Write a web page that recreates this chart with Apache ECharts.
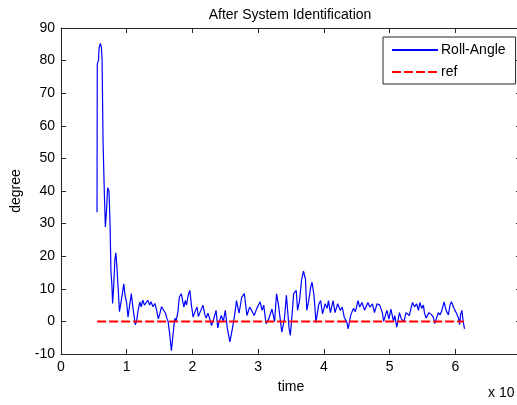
<!DOCTYPE html>
<html>
<head>
<meta charset="UTF-8">
<title>After System Identification</title>
<script src="https://cdn.jsdelivr.net/npm/echarts@6/dist/echarts.min.js"></script>
<style>
html, body { margin: 0; padding: 0; background: #fff; }
#chart { width: 517px; height: 405px; }
</style>
</head>
<body>
<div id="chart"></div>
<script>
// time in units of x10^4, roll angle in degree
const timeData = [
0.548, 0.552, 0.57, 0.58, 0.60, 0.615, 0.625, 0.64, 0.66, 0.675, 0.69, 0.71, 0.73, 0.745, 0.76, 0.775, 0.785, 0.80, 0.82, 0.835,
0.85, 0.87, 0.89, 0.91, 0.93, 0.955, 0.975, 1.0, 1.02, 1.045, 1.07, 1.09, 1.11, 1.13, 1.15, 1.17, 1.20, 1.22, 1.245, 1.27,
1.29, 1.32, 1.35, 1.37, 1.40, 1.43, 1.46, 1.48, 1.50, 1.53, 1.56, 1.59, 1.61, 1.63, 1.655, 1.68, 1.70, 1.72, 1.735, 1.75,
1.78, 1.80, 1.83, 1.845, 1.87, 1.89, 1.91, 1.935, 1.96, 1.985, 2.01, 2.04, 2.07, 2.09, 2.12, 2.16, 2.19, 2.21, 2.235, 2.26,
2.29, 2.32, 2.36, 2.385, 2.41, 2.44, 2.47, 2.50, 2.53, 2.57, 2.61, 2.65, 2.67, 2.71, 2.75, 2.79, 2.83, 2.87, 2.90, 2.94,
2.98, 3.03, 3.06, 3.085, 3.12, 3.16, 3.21, 3.25, 3.28, 3.31, 3.36, 3.40, 3.43, 3.47, 3.49, 3.52, 3.54, 3.58, 3.60, 3.63,
3.66, 3.69, 3.72, 3.74, 3.77, 3.80, 3.82, 3.85, 3.88, 3.92, 3.95, 3.98, 4.02, 4.05, 4.07, 4.10, 4.14, 4.17, 4.21, 4.25,
4.28, 4.31, 4.35, 4.37, 4.41, 4.45, 4.48, 4.52, 4.545, 4.58, 4.62, 4.67, 4.70, 4.74, 4.77, 4.81, 4.85, 4.89, 4.91, 4.96,
4.99, 5.02, 5.06, 5.08, 5.11, 5.15, 5.18, 5.22, 5.25, 5.30, 5.33, 5.35, 5.38, 5.41, 5.44, 5.46, 5.49, 5.515, 5.53, 5.555,
5.58, 5.60, 5.64, 5.665, 5.69, 5.715, 5.74, 5.765, 5.79, 5.83, 5.86, 5.895, 5.92, 5.94, 5.96, 5.985, 6.02, 6.05, 6.065, 6.08,
6.10, 6.12, 6.14
];
const rollAngle = [
33.5, 79, 80, 84, 85.3, 84, 80.5, 55, 39, 29, 33, 41, 40, 31, 15.5, 11, 5.5, 10, 19, 21,
17, 10, 3, 2.5, 8, 11.5, 8, 5.5, 1.3, 5, 8.5, 5, 2, -1, 0, 3, 6, 4.5, 6.5, 5,
4.5, 6.5, 5, 6, 4.5, 5.5, 3, 0.8, 2, 4.5, 4.2, 2.5, 1, 0, -4, -9, -5, -1, 1, 0,
3, 7.4, 8.5, 7, 4.4, 6.4, 5, 8, 9.5, 5, 1.3, 3, 4.4, 1.5, 3, 5, 2, 1, 2.5, 1,
-1.3, 0.5, 3.4, -2, 0, 1.8, 0, 3.4, -2, -6.3, -2, 3, 6.4, 2.5, 7.4, 8.5, 1.8, 4.4, 3.4, 1.8,
4, 6, 3.4, 5, -0.7, 0.7, 3.8, 0, 8.5, 5, -3.3, 0.7, 8, -2, -4.3, 3, 8.5, 9.5, 3.4, 6.4,
12.6, 15.4, 13, 3.4, 6.4, 10.5, 12, 8, -0.3, 5, 6.4, 2.3, 5.4, 4, 6.4, 2.7, 6.4, 2.7, 5.4, 3.4,
4.4, 1.3, -0.3, -2.3, 2, 4, 3, 6.4, 4.4, 5.8, 3.4, 5.8, 4.4, 5.4, 2.7, 5.4, 5, 2.7, 0, 3.4,
0.7, 3.8, 0, 1.8, -1.8, 2.7, 0.7, 0, 2.7, 1.8, 4.4, 5.8, 4.4, 5.4, 3.4, 5.8, 4, 5, 2.7, 1,
2, 2.7, 2, 1.3, -0.7, 1, 2.7, 2, 3, 6, 3.4, 2, 5, 6, 6.4, 3.8, 2.4, 1, -1, 2,
3.4, 0, -2.3
];
const refTime = [0.55, 6.13];
const refValue = [0, 0];
const xTicks = ['0', '1', '2', '3', '4', '5', '6', '7'];

const rollPoints = timeData.map((t, i) => [t, rollAngle[i]]);
const refPoints = refTime.map((t, i) => [t, refValue[i]]);

const font = 'Liberation Sans, Arial, sans-serif';
const axisColor = '#262626';

const chart = echarts.init(document.getElementById('chart'));
chart.setOption({
animation: false,
title: {
text: 'After System Identification',
left: 285,
top: 3,
textAlign: 'center',
textStyle: { fontFamily: font, fontSize: 14, fontWeight: 'normal', color: '#000' }
},
legend: {
orient: 'vertical',
left: 383,
top: 37,
backgroundColor: '#fff',
borderColor: axisColor,
borderWidth: 1,
padding: [6, 10, 5, 8],
itemWidth: 46,
itemHeight: 10,
itemGap: 8,
itemStyle: { opacity: 0 },
textStyle: { fontFamily: font, fontSize: 14, color: '#000', padding: [0, 0, 0, -2] },
data: ['Roll-Angle', 'ref']
},
grid: { left: 61, top: 28, right: -4, bottom: 51, outerBoundsMode: 'none', containLabel: false },
xAxis: [{
type: 'value',
min: 0,
max: 7,
interval: 1,
name: 'time',
nameLocation: 'middle',
nameGap: 26,
nameTextStyle: { fontFamily: font, fontSize: 14, color: '#000' },
axisLine: { onZero: false, lineStyle: { color: axisColor } },
axisTick: { inside: true, length: 5, lineStyle: { color: axisColor } },
axisLabel: { fontFamily: font, fontSize: 14, color: '#000', margin: 6, formatter: v => xTicks[Math.round(v)] },
splitLine: { show: false }
}, {
type: 'value',
position: 'top',
min: 0,
max: 7,
interval: 1,
axisLine: { onZero: false, lineStyle: { color: axisColor } },
axisTick: { inside: true, length: 5, lineStyle: { color: axisColor } },
axisLabel: { show: false },
splitLine: { show: false }
}],
yAxis: [{
type: 'value',
min: -10,
max: 90,
interval: 10,
name: 'degree',
nameLocation: 'middle',
nameGap: 38,
nameTextStyle: { fontFamily: font, fontSize: 14, color: '#000' },
axisLine: { show: true, onZero: false, lineStyle: { color: axisColor } },
axisTick: { show: true, inside: true, length: 5, lineStyle: { color: axisColor } },
axisLabel: { fontFamily: font, fontSize: 14, color: '#000', margin: 6 },
splitLine: { show: false }
}, {
type: 'value',
position: 'right',
min: -10,
max: 90,
interval: 10,
axisLine: { show: true, onZero: false, lineStyle: { color: axisColor } },
axisTick: { show: true, inside: true, length: 5, lineStyle: { color: axisColor } },
axisLabel: { show: false },
splitLine: { show: false }
}],
graphic: [{
type: 'text',
left: 488,
top: 386,
style: { text: 'x 10', font: '14px ' + font, fill: '#000' }
}],
series: [{
name: 'Roll-Angle',
type: 'line',
data: rollPoints,
showSymbol: false,
symbol: 'none',
lineStyle: { color: '#0000ff', width: 1.2 },
itemStyle: { color: '#0000ff' }
}, {
name: 'ref',
type: 'line',
data: refPoints,
showSymbol: false,
symbol: 'none',
lineStyle: { color: '#ff0000', width: 2, type: [9, 3] },
itemStyle: { color: '#ff0000' }
}]
});
</script>
</body>
</html>
